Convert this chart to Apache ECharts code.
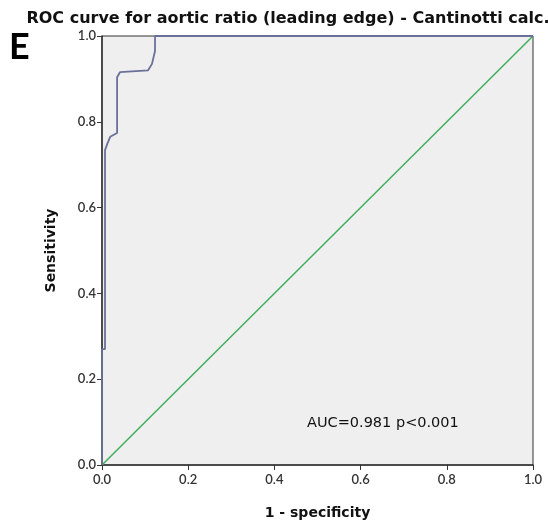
<!DOCTYPE html>
<html>
<head>
<meta charset="utf-8">
<script src="https://cdn.jsdelivr.net/npm/echarts@6/dist/echarts.min.js"></script>
<style>
  html, body { margin: 0; padding: 0; background: #fff; }
  #main { width: 548px; height: 522px; }
</style>
</head>
<body>
<div id="main"></div>
<script>
// ROC curve (1 - specificity, sensitivity)
var rocFpr = [0, 0, 0.007, 0.007, 0.012, 0.019, 0.035, 0.035, 0.042, 0.107, 0.116, 0.123, 0.123, 1];
var rocTpr = [0, 0.27, 0.27, 0.734, 0.748, 0.765, 0.774, 0.904, 0.916, 0.92, 0.935, 0.965, 1, 1];
var refX = [0, 1];
var refY = [0, 1];
var tickLabels = ['0.0', '0.2', '0.4', '0.6', '0.8', '1.0'];

var font = 'Lato, "DejaVu Sans", sans-serif';
var wide = '"DejaVu Sans", sans-serif';

var rocData = rocFpr.map(function (x, i) { return [x, rocTpr[i]]; });
var refData = refX.map(function (x, i) { return [x, refY[i]]; });

var myChart = echarts.init(document.getElementById('main'));
myChart.setOption({
  animation: false,
  title: {
    text: 'ROC curve for aortic ratio (leading edge) - Cantinotti calc.',
    left: 283,
    textAlign: 'center',
    top: 6,
    textStyle: { fontFamily: wide, fontSize: 16, fontWeight: 'bold', color: '#111' }
  },
  graphic: [
    { type: 'text', left: 9, top: 29, style: { text: 'E', font: 'bold 36px ' + font, fill: '#000' } },
    { type: 'text', left: 307, top: 416, style: { text: 'AUC=0.981 p<0.001', font: '14.5px ' + wide, fill: '#111' } }
  ],
  grid: {
    left: 102, right: 15, top: 36, bottom: 57,
    outerBoundsMode: 'none',
    show: true, backgroundColor: '#efefef', borderColor: '#333', borderWidth: 1
  },
  xAxis: {
    type: 'value', min: 0, max: 1, interval: 0.2,
    name: '1 - specificity', nameLocation: 'middle', nameGap: 41,
    nameTextStyle: { fontFamily: wide, fontSize: 14, fontWeight: 'bold', color: '#111' },
    axisLine: { show: true, lineStyle: { color: '#333', width: 1.5 } },
    axisTick: { show: true, length: 5, lineStyle: { color: '#333' } },
    axisLabel: {
      fontFamily: font, fontSize: 13, fontWeight: 600, color: '#333', margin: 8,
      formatter: function (v) { return tickLabels[Math.round(v * 5)]; }
    },
    splitLine: { show: false }
  },
  yAxis: {
    type: 'value', min: 0, max: 1, interval: 0.2,
    name: 'Sensitivity', nameLocation: 'middle', nameGap: 44,
    nameTextStyle: { fontFamily: wide, fontSize: 14, fontWeight: 'bold', color: '#111' },
    axisLine: { show: true, lineStyle: { color: '#333', width: 1.5 } },
    axisTick: { show: true, length: 5, lineStyle: { color: '#333' } },
    axisLabel: {
      fontFamily: font, fontSize: 13, fontWeight: 600, color: '#333', margin: 6,
      formatter: function (v) { return tickLabels[Math.round(v * 5)]; }
    },
    splitLine: { show: false }
  },
  series: [
    {
      name: 'Reference', type: 'line', data: refData, symbol: 'none',
      lineStyle: { color: '#3fae5c', width: 1.5 }
    },
    {
      name: 'ROC', type: 'line', data: rocData, symbol: 'none',
      lineStyle: { color: '#6b7099', width: 1.8 }
    }
  ]
});
</script>
</body>
</html>
